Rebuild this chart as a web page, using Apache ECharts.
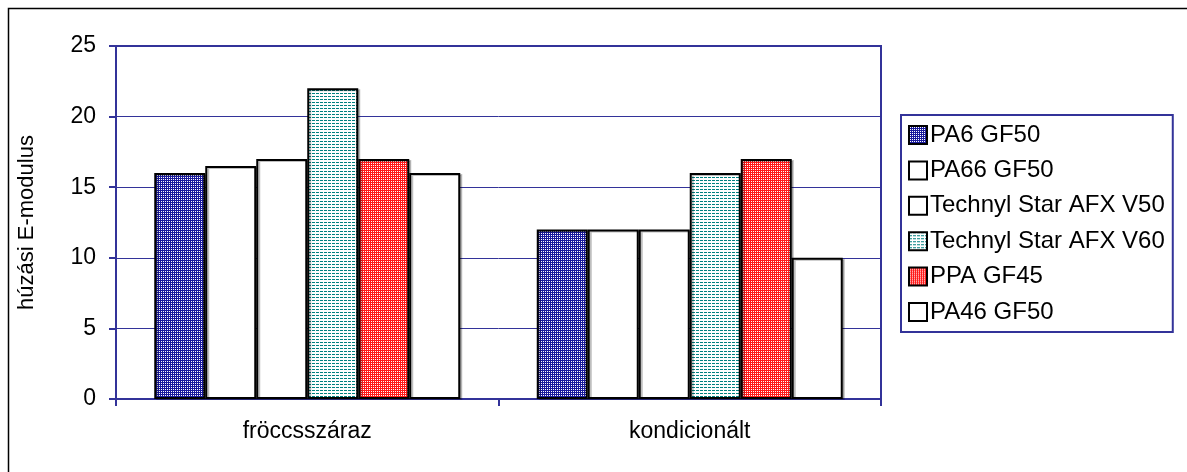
<!DOCTYPE html>
<html>
<head>
<meta charset="utf-8">
<script src="https://cdn.jsdelivr.net/npm/echarts@6/dist/echarts.min.js"></script>
<style>
html,body{margin:0;padding:0;background:#fff;}
#chart{width:1187px;height:472px;}
</style>
</head>
<body>
<div id="chart"></div>
<script>
const categories = ['fröccsszáraz', 'kondicionált'];
const seriesNames = ['PA6 GF50', 'PA66 GF50', 'Technyl Star AFX V50', 'Technyl Star AFX V60', 'PPA GF45', 'PA46 GF50'];
const pa6 = [16, 12];
const pa66 = [16.5, 12];
const afxV50 = [17, 12];
const afxV60 = [22, 16];
const ppa = [17, 17];
const pa46 = [16, 10];
const yTicks = [0, 5, 10, 15, 20, 25];
const yAxisName = 'húzási E-modulus';

function checker(color) {
  const c = document.createElement('canvas');
  c.width = 2; c.height = 2;
  const ctx = c.getContext('2d');
  ctx.fillStyle = color; ctx.fillRect(0, 0, 2, 2);
  ctx.fillStyle = '#ffffff';
  ctx.fillRect(1, 1, 1, 1);
  return c;
}
function dashes(color) {
  const c = document.createElement('canvas');
  c.width = 4; c.height = 3;
  const ctx = c.getContext('2d');
  ctx.fillStyle = '#ffffff'; ctx.fillRect(0, 0, 4, 3);
  ctx.fillStyle = color;
  ctx.fillRect(0, 0, 3, 1);
  return c;
}
const fills = [
  { image: checker('#1a1a9c'), repeat: 'repeat' },
  '#ffffff',
  '#ffffff',
  { image: dashes('#008080'), repeat: 'repeat' },
  { image: checker('#ff1a1a'), repeat: 'repeat' },
  '#ffffff'
];
const values = [pa6, pa66, afxV50, afxV60, ppa, pa46];
const navy = '#333399';
const font = 'Liberation Sans, Arial, sans-serif';

const chart = echarts.init(document.getElementById('chart'), null, { renderer: 'canvas' });
chart.setOption({
  animation: false,
  backgroundColor: '#ffffff',
  graphic: [{
    type: 'rect', left: 6, top: 6,
    shape: { width: 1190, height: 470 },
    style: { fill: 'none', stroke: '#000', lineWidth: 1.5 },
    z: 100
  }],
  grid: {
    left: 116, right: 306, top: 46, bottom: 73,
    show: true, borderColor: navy, borderWidth: 2, backgroundColor: 'transparent'
  },
  legend: {
    orient: 'vertical',
    left: 901, top: 115,
    padding: [8, 8, 8, 7],
    itemGap: 11.4,
    itemWidth: 18, itemHeight: 18,
    borderColor: navy, borderWidth: 2,
    icon: 'rect',
    textStyle: { fontFamily: font, fontSize: 24, color: '#000', padding: [0, 0, 0, -2] },
    data: seriesNames
  },
  xAxis: {
    type: 'category',
    data: categories,
    axisLine: { lineStyle: { color: navy, width: 2 } },
    axisTick: { show: true, length: 7, lineStyle: { color: navy, width: 2 } },
    axisLabel: { fontFamily: font, fontSize: 23, color: '#000', margin: 21 }
  },
  yAxis: {
    type: 'value',
    min: yTicks[0], max: yTicks[yTicks.length - 1], interval: 5,
    name: yAxisName,
    nameLocation: 'middle',
    nameGap: 78,
    nameTextStyle: { fontFamily: font, fontSize: 22, color: '#000' },
    axisLine: { show: true, lineStyle: { color: navy, width: 2 } },
    axisTick: { show: true, length: 7, lineStyle: { color: navy, width: 2 } },
    axisLabel: { fontFamily: font, fontSize: 23, color: '#000', margin: 20 },
    splitLine: { show: true, lineStyle: { color: navy, width: 1 } }
  },
  series: seriesNames.map((name, i) => ({
    name: name,
    type: 'bar',
    data: values[i],
    barGap: '0%',
    barCategoryGap: '20%',
    itemStyle: {
      color: fills[i],
      borderColor: '#000',
      borderWidth: 2,
      shadowColor: 'rgba(0,0,0,0.25)',
      shadowOffsetX: 2, shadowOffsetY: 1, shadowBlur: 0
    }
  }))
});
</script>
</body>
</html>
